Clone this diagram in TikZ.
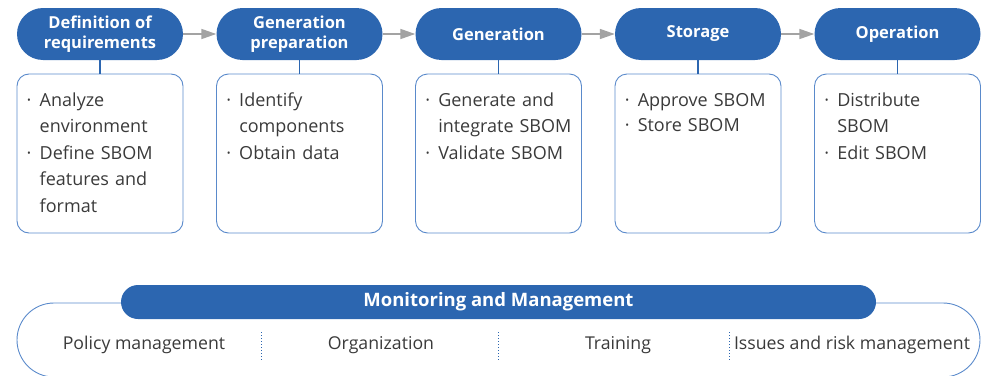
\documentclass[tikz,border=0pt]{standalone}
\usepackage{fontspec}
\setmainfont{Open Sans}
\usetikzlibrary{arrows.meta}
\definecolor{pillblue}{HTML}{2C66B0}
\definecolor{boxblue}{HTML}{5A8ACB}
\definecolor{txtgray}{HTML}{3A3A3A}
\definecolor{arrgray}{HTML}{A3A3A3}
\newcommand\bitem[1]{\noindent\makebox[13pt][l]{·}\begin{tabular}[t]{@{}l@{}}#1\end{tabular}\par\vspace{-1.2pt}}
\tikzset{
  pill/.style={fill=pillblue, text=white, minimum width=166pt, minimum height=52pt,
    rounded corners=26pt, inner sep=0pt, align=center,
    font=\bfseries\fontsize{16.5}{20.5}\selectfont},
  card/.style={draw=boxblue, line width=0.9pt, minimum width=166pt, minimum height=159pt,
    rounded corners=12pt, inner sep=0pt},
  cardtext/.style={anchor=north west, text width=155pt, inner sep=0pt, text=txtgray,
    font=\fontsize{18}{26.5}\selectfont},
  flow/.style={draw=arrgray, line width=1.6pt, -{Triangle[length=15pt,width=10pt]}},
  link/.style={draw=pillblue, line width=1.2pt},
  sep/.style={draw=pillblue, line width=1pt, dotted},
  lbl/.style={text=txtgray, font=\fontsize{17.7}{20}\selectfont, inner sep=0pt},
}
\begin{document}
\begin{tikzpicture}[x=1pt,y=-1pt]
\useasboundingbox (0,0) rectangle (983,375);
% pills
\node[pill] (p1) at (100,34) {Definition of\\requirements};
\node[pill] (p2) at (299.5,34) {Generation\\preparation};
\node[pill] (p3) at (498.5,34) {Generation};
\node[pill] (p4) at (698,34) {Storage};
\node[pill] (p5) at (897.5,34) {Operation};
% cards
\foreach \i/\x in {1/100,2/299.5,3/498.5,4/698,5/897.5}{
  \node[card] (c\i) at (\x,153.5) {};
  \draw[link] (p\i.south) -- (c\i.north);
}
\foreach \a/\b in {1/2,2/3,3/4,4/5}{
  \draw[flow] (p\a.east) -- (p\b.west);
}
\node[cardtext] (t1) at ([xshift=10pt,yshift=-14pt]c1.north west)
  {\bitem{Analyze\\environment}\bitem{Define SBOM\\features and\\format}};
\node[cardtext] (t2) at ([xshift=10pt,yshift=-14pt]c2.north west)
  {\bitem{Identify\\components}\bitem{Obtain data}};
\node[cardtext] (t3) at ([xshift=10pt,yshift=-14pt]c3.north west)
  {\bitem{Generate and\\integrate SBOM}\bitem{Validate SBOM}};
\node[cardtext] (t4) at ([xshift=10pt,yshift=-14pt]c4.north west)
  {\bitem{Approve SBOM}\bitem{Store SBOM}};
\node[cardtext] (t5) at ([xshift=10pt,yshift=-14pt]c5.north west)
  {\bitem{Distribute\\SBOM}\bitem{Edit SBOM}};
% bottom
\node[draw=boxblue, line width=0.9pt, minimum width=963pt, minimum height=74pt,
  rounded corners=37pt, inner sep=0pt] (frame) at (498.5,340) {};
\node[fill=pillblue, text=white, minimum width=755pt, minimum height=34pt,
  rounded corners=17pt, inner sep=0pt, font=\bfseries\fontsize{18.5}{20}\selectfont]
  (mm) at (498.5,302) {Monitoring and Management};
\node[lbl] (l1) at (144,345) {Policy management};
\node[lbl] (l2) at (381,345) {Organization};
\node[lbl] (l3) at (618,345) {Training};
\node[lbl] (l4) at (852,345) {Issues and risk management};
\foreach \x in {261,498,729}{
  \draw[sep] (\x,332) -- (\x,360);
}
\end{tikzpicture}
\end{document}
